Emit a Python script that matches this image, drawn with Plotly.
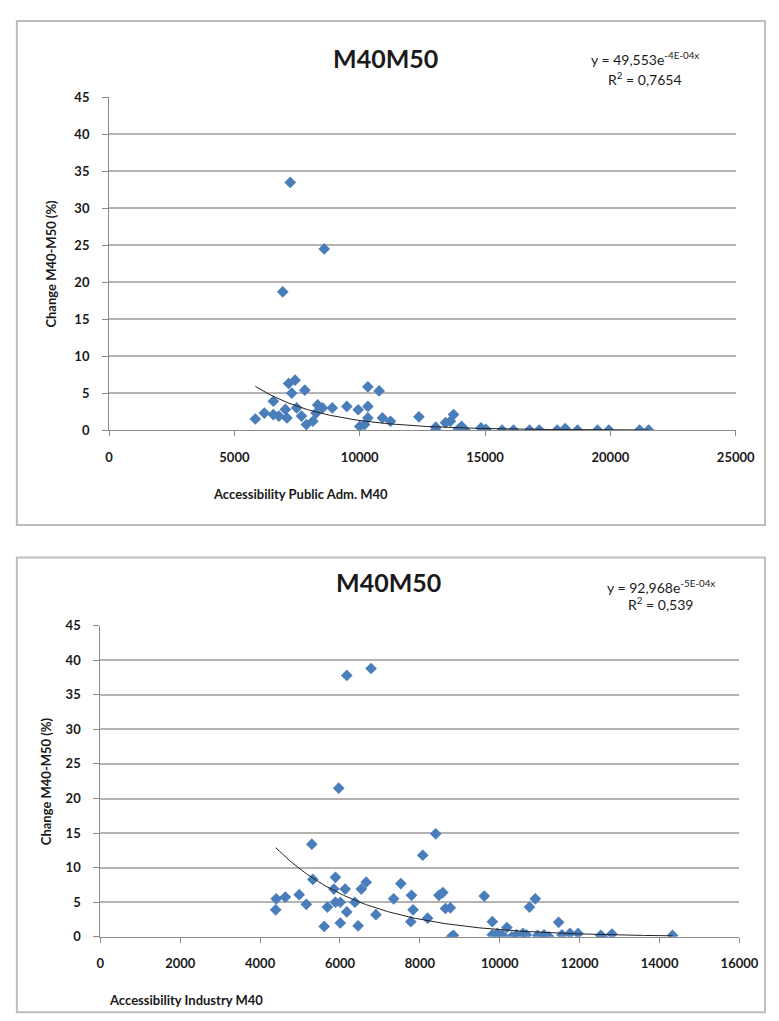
import numpy as np
import plotly.graph_objects as go

W, H = 779, 1021

# ---------------- data: top chart (Public Adm.) ----------------
pub_x = [7229, 8584, 6930, 5835, 6195, 6555, 6555, 6776, 7035, 7097,
         7163, 7422, 7290, 7484, 7809, 7678, 7871, 8131, 8324, 8259,
         8518, 8905, 9486, 9939, 10001, 10326, 10775, 10326, 10326, 10194,
         10907, 11228, 12363, 13036, 13036, 13423, 13745, 13617, 14066, 13938,
         14198, 14840, 15034, 15680, 16133, 16776, 17164, 17876, 18197, 18689,
         19487, 19940, 21167, 21527]
pub_y = [33.5, 24.5, 18.7, 1.5, 2.3, 3.9, 2.1, 1.9, 2.8, 1.65,
         6.3, 6.75, 5.0, 3.0, 5.4, 1.9, 0.75, 1.2, 3.4, 2.3,
         3.0, 3.0, 3.2, 2.75, 0.5, 5.85, 5.3, 3.2, 1.65, 0.75,
         1.65, 1.2, 1.8, 0.4, 0.0, 1.0, 2.1, 1.2, 0.5, 0.1,
         0.0, 0.3, 0.1, 0.0, 0.0, 0.0, 0.0, 0.0, 0.2, 0.0,
         0.0, 0.0, 0.0, 0.0]
pub_a, pub_b = 49.553, -3.64e-4

# ---------------- data: bottom chart (Industry) ----------------
ind_x = [6777, 6170, 5968, 4404, 4390, 4632, 4979, 5157, 5295, 5320,
         5604, 5685, 5886, 5847, 6129, 5886, 6007, 6170, 6007, 6372,
         6454, 6534, 6656, 6899, 7343, 7523, 7790, 7829, 7773, 8071,
         8193, 8397, 8477, 8574, 8640, 8762, 8786, 8841, 9611, 9813,
         9813, 9935, 10056, 10178, 10299, 10421, 10583, 10664, 10744, 10889,
         10948, 11108, 11230, 11473, 11556, 11757, 11959, 12526, 12566, 12808,
         14324]
ind_y = [38.8, 37.8, 21.5, 5.5, 3.9, 5.75, 6.1, 4.7, 13.4, 8.3,
         1.5, 4.3, 8.6, 6.9, 6.9, 5.0, 5.0, 3.6, 2.0, 5.0,
         1.6, 6.9, 7.9, 3.2, 5.5, 7.7, 6.0, 3.9, 2.2, 11.8,
         2.7, 14.9, 6.0, 6.4, 4.1, 4.2, 0.0, 0.2, 5.9, 2.2,
         0.3, 0.5, 0.3, 1.35, 0.0, 0.3, 0.5, 0.3, 4.3, 5.5,
         0.2, 0.3, 0.0, 2.1, 0.3, 0.5, 0.5, 0.2, 0.0, 0.4,
         0.2]
ind_a, ind_b = 92.968, -4.5e-4

titles = ["M40M50", "M40M50"]
x_titles = ["Accessibility Public Adm. M40", "Accessibility Industry M40"]
y_title = "Change M40-M50 (%)"
eq_texts = ["y = 49,553e<sup>-4E-04x</sup>", "y = 92,968e<sup>-5E-04x</sup>"]
r2_texts = ["R<sup>2</sup> = 0,7654", "R<sup>2</sup> = 0,539"]

FONT = "Lato"
BLUE = "#4A7EBB"
GRID = "#b3b3b3"
AXIS = "#8a8a8a"
TXT = "#1a1a1a"


def px(x):
    return x / W


def py(y):
    return 1 - y / H


fig = go.Figure()

# scatter points
fig.add_trace(go.Scatter(x=pub_x, y=pub_y, mode="markers", xaxis="x", yaxis="y",
                         marker=dict(symbol="diamond", size=9, color=BLUE),
                         showlegend=False, hoverinfo="x+y"))
fig.add_trace(go.Scatter(x=ind_x, y=ind_y, mode="markers", xaxis="x2", yaxis="y2",
                         marker=dict(symbol="diamond", size=9, color=BLUE),
                         showlegend=False, hoverinfo="x+y"))

# exponential trendlines
tx1 = np.linspace(min(pub_x), max(pub_x), 200)
fig.add_trace(go.Scatter(x=tx1, y=pub_a * np.exp(pub_b * tx1), mode="lines",
                         xaxis="x", yaxis="y", line=dict(color="#222222", width=1),
                         showlegend=False, hoverinfo="skip"))
tx2 = np.linspace(min(ind_x), max(ind_x), 200)
fig.add_trace(go.Scatter(x=tx2, y=ind_a * np.exp(ind_b * tx2), mode="lines",
                         xaxis="x2", yaxis="y2", line=dict(color="#222222", width=1),
                         showlegend=False, hoverinfo="skip"))

tickfont = dict(family=FONT, size=13, color=TXT, weight="bold")

common_x = dict(showgrid=False, zeroline=False, showline=True, linecolor=AXIS, linewidth=1,
                ticks="outside", ticklen=5, tickcolor=AXIS, tickfont=tickfont,
                ticklabelstandoff=10, tickformat="d")
common_y = dict(showgrid=True, gridcolor=GRID, gridwidth=1.5, zeroline=False, showline=True,
                linecolor=AXIS, linewidth=1, ticks="outside", ticklen=6, tickcolor=AXIS,
                tickfont=tickfont, range=[0, 45], dtick=5, tick0=0, ticklabelstandoff=10,
                tickformat="d")

fig.update_layout(
    width=W, height=H, autosize=False,
    margin=dict(l=0, r=0, t=0, b=0),
    paper_bgcolor="white", plot_bgcolor="white",
    xaxis=dict(common_x, domain=[px(100), px(745.7)], range=[0, 25000], dtick=5000,
               tick0=0, anchor="y"),
    yaxis=dict(common_y, domain=[py(420.7), py(82.7)], anchor="x"),
    xaxis2=dict(common_x, domain=[px(91), px(749.6)], range=[0, 16000], dtick=2000,
                tick0=0, anchor="y2"),
    yaxis2=dict(common_y, domain=[py(935.5), py(619.3)], anchor="x2"),
)

# frames
shapes = [
    dict(type="rect", xref="paper", yref="paper", x0=px(5), x1=px(776), y0=py(517), y1=py(5),
         line=dict(color="#bdbdbd", width=2), fillcolor="rgba(0,0,0,0)", layer="below"),
    dict(type="rect", xref="paper", yref="paper", x0=px(5), x1=px(776), y0=py(1012), y1=py(550),
         line=dict(color="#bdbdbd", width=2), fillcolor="rgba(0,0,0,0)", layer="below"),
]
fig.update_layout(shapes=shapes)

ann = []


def add_text(text, x, y, size, bold=False, angle=0, xanchor="center"):
    ann.append(dict(text=text, x=px(x), y=py(y), xref="paper", yref="paper",
                    showarrow=False, xanchor=xanchor, yanchor="middle", textangle=angle,
                    font=dict(family=FONT, size=size, color=TXT,
                              weight="bold" if bold else "normal")))


# top chart texts
add_text(titles[0], 385, 43, 25, bold=True)
add_text(eq_texts[0], 652, 43, 14)
add_text(r2_texts[0], 652, 63, 14)
add_text(x_titles[0], 297, 486, 13, bold=True)
add_text(y_title, 40, 251.7, 13, bold=True, angle=-90)

# bottom chart texts
add_text(titles[1], 388, 575, 25, bold=True)
add_text(eq_texts[1], 669, 580, 14)
add_text(r2_texts[1], 668, 597, 14)
add_text(x_titles[1], 179, 1000, 13, bold=True)
add_text(y_title, 35, 777.4, 13, bold=True, angle=-90)

fig.update_layout(annotations=ann)

fig.write_html("out.html")
